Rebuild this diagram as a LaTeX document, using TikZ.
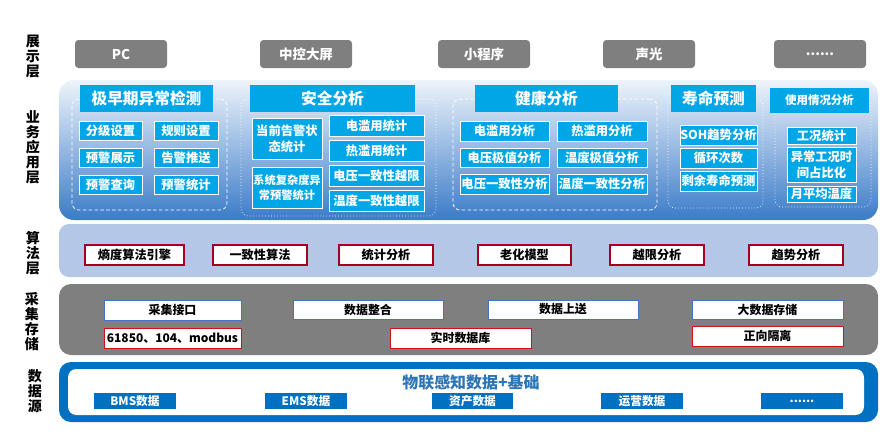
\documentclass[tikz,border=0pt]{standalone}
\usepackage{fontspec}
\setmainfont{Noto Sans CJK SC}

\definecolor{showgray}{HTML}{7F7F7F}
\definecolor{cyanbox}{HTML}{00A6E6}
\definecolor{bizTop}{HTML}{EEF4FB}
\definecolor{bizBot}{HTML}{3B7BC8}
\definecolor{algband}{HTML}{B4C7E7}
\definecolor{algred}{HTML}{A50021}
\definecolor{colblue}{HTML}{4472C4}
\definecolor{colred}{HTML}{D0101A}
\definecolor{datablue}{HTML}{0070C0}
\definecolor{titleblue}{HTML}{2E75B6}

\tikzset{
  cellat/.style n args={4}{minimum width={(#3-#1)*0.03cm}, minimum height={(#4-#2)*0.03cm},
    at={({(#1+#3)/2},{(#2+#4)/2})}},
  fbox/.style={inner sep=0pt, align=center},
  laylab/.style={align=center, font=\fontsize{12}{12.8}\selectfont\bfseries},
  showbox/.style={fbox, fill=showgray, rounded corners=3pt, text=white, font=\fontsize{11.5}{13}\selectfont\bfseries},
  grptitle/.style={fbox, fill=cyanbox, text=white, font=\fontsize{13.4}{15}\selectfont\bfseries},
  grpframe/.style={fbox, draw=white, rounded corners=6pt, line width=0.6pt},
  item/.style={fbox, fill=cyanbox, draw=white, line width=0.7pt, text=white, font=\fontsize{10.5}{13.5}\selectfont\bfseries},
  algbox/.style={fbox, fill=white, draw=algred, line width=1.3pt, font=\fontsize{10.4}{12}\selectfont\bfseries},
  colbox/.style={fbox, fill=white, draw=colblue, line width=0.8pt, font=\fontsize{10.2}{12}\selectfont\bfseries},
  colredbox/.style={colbox, draw=colred},
  databox/.style={fbox, fill=datablue, text=white, font=\fontsize{10}{12}\selectfont\bfseries},
}

\begin{document}
\begin{tikzpicture}[x=0.03cm,y=-0.03cm]
	\useasboundingbox (0,0) rectangle (896,437);

	% layer labels
	\node[laylab] (lshow) at (33,57) {展\\示\\层};
	\node[laylab] (lbiz) at (33,147) {业\\务\\应\\用\\层};
	\node[laylab] (lalg) at (33,253) {算\\法\\层};
	\node[laylab] (lcol) at (32,322) {采\\集\\存\\储};
	\node[laylab] (ldata) at (35,391) {数\\据\\源};

	% display layer
	\node[showbox, cellat={75}{40}{167}{68}] (pc) {PC};
	\node[showbox, cellat={260}{40}{352}{68}] (screen) {中控大屏};
	\node[showbox, cellat={438}{40}{530}{68}] (mini) {小程序};
	\node[showbox, cellat={603}{40}{695}{68}] (sound) {声光};
	\node[showbox, cellat={774}{40}{866}{68}] (more) {......};

	% business layer
	\node[fbox, rounded corners=0.45cm, top color=bizTop, bottom color=bizBot, cellat={59}{80}{878}{220}] (biz) {};

	\node[grpframe, dash pattern=on 3pt off 2pt, cellat={72}{99}{227}{210}] (g1f) {};
	\node[grptitle, cellat={80}{85}{213}{112}] (g1t) {极早期异常检测};
	\node[item, cellat={79}{121}{142}{140}] (a11) {分级设置};
	\node[item, cellat={154}{121}{218}{140}] (a12) {规则设置};
	\node[item, cellat={79}{148}{142}{167}] (a21) {预警展示};
	\node[item, cellat={154}{148}{218}{167}] (a22) {告警推送};
	\node[item, cellat={79}{175}{142}{194}] (a31) {预警查询};
	\node[item, cellat={154}{175}{218}{194}] (a32) {预警统计};

	\node[grpframe, dotted, cellat={241}{99}{436}{216}] (g2f) {};
	\node[grptitle, cellat={250}{85}{415}{112}] (g2t) {安全分析};
	\node[item, cellat={252}{118}{322}{159}] (b1) {当前告警状\\态统计};
	\node[item, font=\fontsize{9.6}{12.5}\selectfont\bfseries, cellat={252}{167}{322}{208}] (b2) {系统复杂度异\\常预警统计};
	\node[item, cellat={329}{115}{424}{136}] (b3) {电滥用统计};
	\node[item, cellat={329}{140}{424}{161}] (b4) {热滥用统计};
	\node[item, cellat={329}{165}{424}{186}] (b5) {电压一致性越限};
	\node[item, cellat={329}{190}{424}{211}] (b6) {温度一致性越限};

	\node[grpframe, dash pattern=on 3pt off 2pt, cellat={453}{99}{657}{210}] (g3f) {};
	\node[grptitle, cellat={475}{85}{618}{112}] (g3t) {健康分析};
	\node[item, cellat={460}{121}{549}{141}] (c11) {电滥用分析};
	\node[item, cellat={557}{121}{647}{141}] (c12) {热滥用分析};
	\node[item, cellat={460}{148}{549}{167}] (c21) {电压极值分析};
	\node[item, cellat={557}{148}{647}{167}] (c22) {温度极值分析};
	\node[item, cellat={460}{174}{549}{194}] (c31) {电压一致性分析};
	\node[item, cellat={557}{174}{647}{194}] (c32) {温度一致性分析};

	\node[grpframe, dotted, cellat={668}{99}{763}{208}] (g4f) {};
	\node[grptitle, cellat={671}{85}{756}{112}] (g4t) {寿命预测};
	\node[item, cellat={680}{125}{757}{145}] (d1) {SOH趋势分析};
	\node[item, cellat={680}{148}{757}{168}] (d2) {循环次数};
	\node[item, cellat={680}{171}{757}{191}] (d3) {剩余寿命预测};

	\node[grpframe, dotted, cellat={775}{99}{871}{207}] (g5f) {};
	\node[grptitle, font=\fontsize{9.8}{12}\selectfont\bfseries, cellat={770}{88}{869}{113}] (g5t) {使用情况分析};
	\node[item, cellat={787}{127}{856}{144}] (e1) {工况统计};
	\node[item, cellat={787}{147}{856}{182}] (e2) {异常工况时\\间占比化};
	\node[item, cellat={787}{186}{856}{202}] (e3) {月平均温度};

	% algorithm layer
	\node[fbox, fill=algband, rounded corners=0.3cm, cellat={59}{224}{878}{277}] (alg) {};
	\node[algbox, cellat={85}{245}{184}{265}] (m1) {熵度算法引擎};
	\node[algbox, cellat={213}{245}{307}{265}] (m2) {一致性算法};
	\node[algbox, cellat={339}{245}{433}{265}] (m3) {统计分析};
	\node[algbox, cellat={478}{245}{571}{265}] (m4) {老化模型};
	\node[algbox, cellat={610}{245}{704}{265}] (m5) {越限分析};
	\node[algbox, cellat={749}{245}{843}{265}] (m6) {趋势分析};

	% collection & storage layer
	\node[fbox, fill=showgray, rounded corners=0.36cm, cellat={59}{284}{878}{355}] (col) {};
	\node[colbox, cellat={104}{300}{241}{320}] (n1) {采集接口};
	\node[colbox, cellat={293}{300}{443}{319}] (n2) {数据整合};
	\node[colbox, cellat={488}{300}{638}{319}] (n3) {数据上送};
	\node[colbox, cellat={692}{300}{843}{319}] (n4) {大数据存储};
	\node[colredbox, cellat={104}{328}{241}{348}] (n5) {61850、104、modbus};
	\node[colredbox, cellat={390}{328}{531}{348}] (n6) {实时数据库};
	\node[colredbox, cellat={692}{326}{843}{346}] (n7) {正向隔离};

	% data source layer
	\node[fbox, fill=datablue, rounded corners=0.36cm, cellat={59}{362}{878}{422}] (data) {};
	\node[fbox, fill=white, rounded corners=0.25cm, cellat={68}{369}{864}{415}] (datain) {};
	\node[text=titleblue, font=\fontsize{13.6}{14.5}\selectfont\bfseries] (dtitle) at (471,382) {物联感知数据+基础};
	\node[databox, cellat={94}{393}{176}{409}] (s1) {BMS数据};
	\node[databox, cellat={265}{393}{347}{409}] (s2) {EMS数据};
	\node[databox, cellat={432}{393}{513}{409}] (s3) {资产数据};
	\node[databox, cellat={601}{393}{683}{409}] (s4) {运营数据};
	\node[databox, cellat={761}{393}{843}{409}] (s5) {......};
\end{tikzpicture}
\end{document}
